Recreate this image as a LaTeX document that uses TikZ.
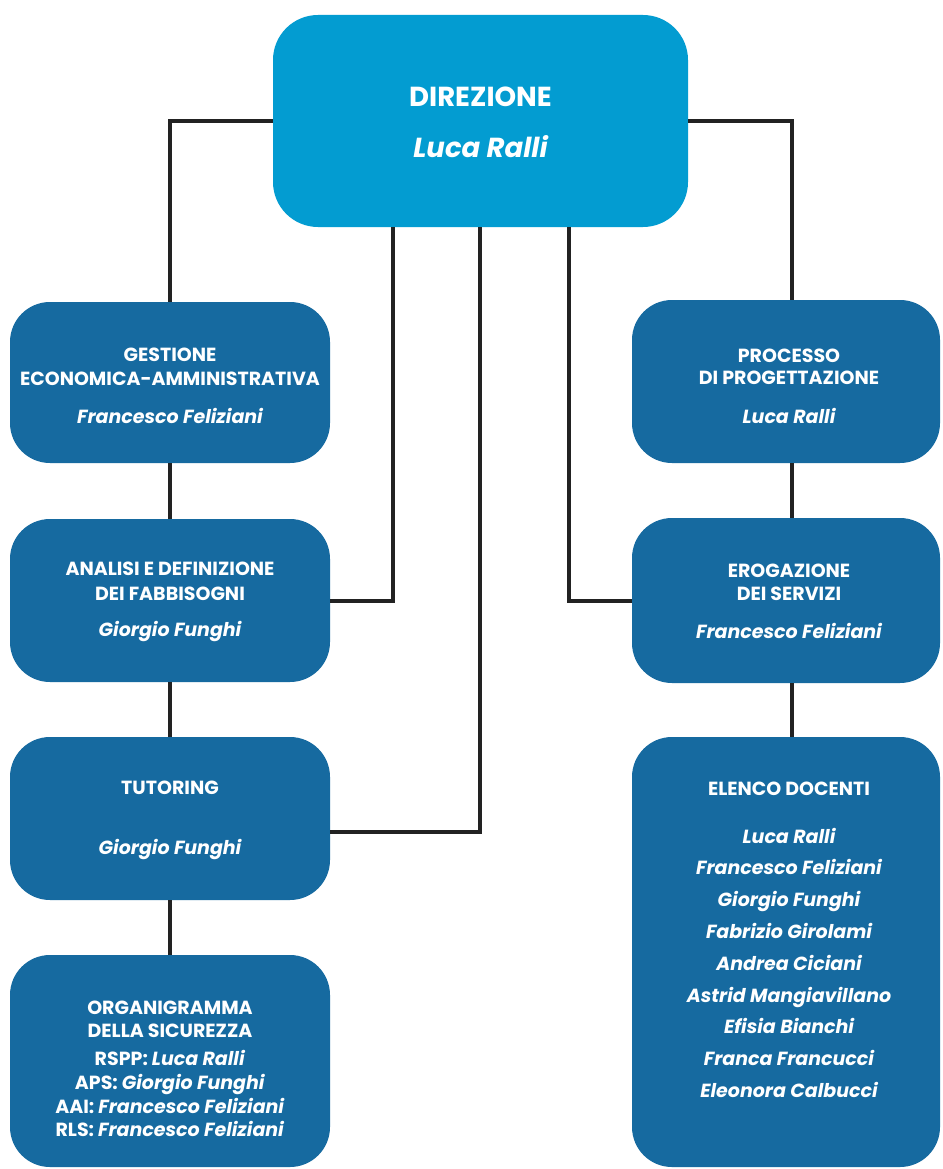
\documentclass[tikz,border=0pt]{standalone}
\usepackage{fontspec}
\setmainfont{Poppins}
\definecolor{topblue}{RGB}{3,156,209}
\definecolor{boxblue}{RGB}{22,106,160}
\definecolor{linecol}{RGB}{34,34,34}
\begin{document}
\begin{tikzpicture}[x=1pt,y=-1pt,
  box/.style={fill=boxblue, draw=none, rounded corners=40pt, inner sep=0pt},
  topbox/.style={fill=topblue, draw=none, rounded corners=45pt, inner sep=0pt},
  conn/.style={draw=linecol, line width=4pt},
  ttl/.style={text=white, anchor=base, inner sep=0pt, font=\fontsize{19}{22}\selectfont\bfseries},
  nm/.style={text=white, anchor=base, inner sep=0pt, font=\fontsize{19}{22}\selectfont\bfseries\itshape},
  bigttl/.style={text=white, anchor=base, inner sep=0pt, font=\fontsize{27.5}{32}\selectfont\bfseries},
  bignm/.style={text=white, anchor=base, inner sep=0pt, font=\fontsize{27.5}{32}\selectfont\bfseries\itshape}]
\useasboundingbox (0,0) rectangle (942,1169);
\fill[white] (0,0) rectangle (942,1169);

% boxes
\node[topbox, minimum width=415, minimum height=212] (dir) at (480.5,121) {};
\node[box, minimum width=320, minimum height=161] (gest) at (170,382.5) {};
\node[box, minimum width=320, minimum height=163] (anal) at (170,600.5) {};
\node[box, minimum width=320, minimum height=163] (tut) at (170,818.5) {};
\node[box, minimum width=320, minimum height=212] (org) at (170,1061) {};
\node[box, minimum width=308, minimum height=163] (proc) at (786,381.5) {};
\node[box, minimum width=308, minimum height=165] (erog) at (786,600.5) {};
\node[box, minimum width=308, minimum height=430] (doc) at (786,952) {};

% helper coordinates
\coordinate (vl) at (170,0);
\coordinate (vr) at (792,0);
\coordinate (v1) at (393,0);
\coordinate (v2) at (480,0);
\coordinate (v3) at (569,0);
\coordinate (h2) at (330,832);

% connectors
\draw[conn] (dir.west) -| (gest.north -| vl);
\draw[conn] (dir.east) -| (proc.north -| vr);
\draw[conn] (dir.south -| v1) |- (anal.east);
\draw[conn] (dir.south -| v2) |- (h2);
\draw[conn] (dir.south -| v3) |- (erog.west);
\draw[conn] (gest.south -| vl) -- (anal.north -| vl);
\draw[conn] (anal.south -| vl) -- (tut.north -| vl);
\draw[conn] (tut.south -| vl) -- (org.north -| vl);
\draw[conn] (proc.south -| vr) -- (erog.north -| vr);
\draw[conn] (erog.south -| vr) -- (doc.north -| vr);

% texts
\node[bigttl] (dirt) at (480.5,107) {DIREZIONE};
\node[bignm] (dirn) at (480.5,158) {Luca Ralli};

\node[ttl] (gt1) at (170,361) {GESTIONE};
\node[ttl] (gt2) at (170,385) {ECONOMICA-AMMINISTRATIVA};
\node[nm] (gn) at (170,423) {Francesco Feliziani};

\node[ttl] (at1) at (170,575) {ANALISI E DEFINIZIONE};
\node[ttl] (at2) at (170,600) {DEI FABBISOGNI};
\node[nm] (an) at (170,636) {Giorgio Funghi};

\node[ttl] (tt1) at (170,794) {TUTORING};
\node[nm] (tn) at (170,854) {Giorgio Funghi};

\node[ttl] (ot1) at (170,1014) {ORGANIGRAMMA};
\node[ttl] (ot2) at (170,1037) {DELLA SICUREZZA};
\node[ttl] (ot3) at (170,1065) {RSPP: \textit{Luca Ralli}};
\node[ttl] (ot4) at (170,1089.5) {APS: \textit{Giorgio Funghi}};
\node[ttl] (ot5) at (170,1113) {AAI: \textit{Francesco Feliziani}};
\node[ttl] (ot6) at (170,1136) {RLS: \textit{Francesco Feliziani}};

\node[ttl] (pt1) at (789,362) {PROCESSO};
\node[ttl] (pt2) at (789,384) {DI PROGETTAZIONE};
\node[nm] (pn) at (789,423) {Luca Ralli};

\node[ttl] (et1) at (789,577) {EROGAZIONE};
\node[ttl] (et2) at (789,600) {DEI SERVIZI};
\node[nm] (en) at (789,638) {Francesco Feliziani};

\node[ttl] (dt) at (789,795) {ELENCO DOCENTI};
\node[nm] (d1) at (789,843) {Luca Ralli};
\node[nm] (d2) at (789,874) {Francesco Feliziani};
\node[nm] (d3) at (789,906) {Giorgio Funghi};
\node[nm] (d4) at (789,938) {Fabrizio Girolami};
\node[nm] (d5) at (789,970) {Andrea Ciciani};
\node[nm] (d6) at (789,1002) {Astrid Mangiavillano};
\node[nm] (d7) at (789,1033) {Efisia Bianchi};
\node[nm] (d8) at (789,1065) {Franca Francucci};
\node[nm] (d9) at (789,1097) {Eleonora Calbucci};
\end{tikzpicture}
\end{document}
